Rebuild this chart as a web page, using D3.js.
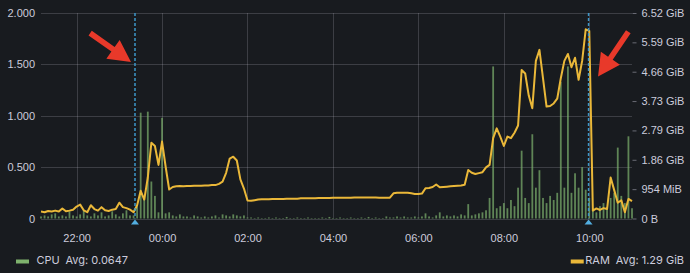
<!DOCTYPE html>
<html>
<head>
<meta charset="utf-8">
<script src="https://cdn.jsdelivr.net/npm/d3@7"></script>
<style>
  html, body { margin: 0; padding: 0; background: #181b1f; }
  svg { display: block; font-family: Inter, "Noto Sans", sans-serif; }
</style>
</head>
<body>
<div id="chart"></div>
<script>
// time range, one sample every 5 minutes
var startTime = new Date(2021, 0, 1, 21, 10);
var endTime = new Date(2021, 0, 2, 11, 0);
var stepMinutes = 5;

// CPU (left axis)
var cpuValues = [
  0.02,0.03,0.02,0.04,0.05,0.02,0.03,0.02,0.07,0.03,0.02,0.04,0.08,0.03,0.02,0.05,0.03,0.06,0.02,0.03,
  0.07,0.04,0.02,0.05,0.08,0.03,
  0.03,0.12,1.03,0.22,1.04,0.36,0.22,0.06,0.98,0.05,0.06,0.03,0.02,0.04,0.02,
  0.02,0.01,0.03,0.02,0.01,0.02,0.01,0.02,0.03,0.01,
  0.04,0.03,0.02,0.04,0.03,0.02,0.03,0.01,
  0.01,0.005,0.01,0.005,0.005,0.01,0.005,0.01,0.005,0.005,
  0.015,0.005,0.005,0.01,0.005,0.005,0.01,0.005,0.005,0.005,
  0.01,0.005,0.015,0.005,0.005,0.01,0.005,0.005,0.01,0.005,
  0.005,0.01,0.005,0.015,0.005,0.01,0.005,0.005,0.02,0.01,
  0.01,0.02,
  0.01,0.02,0.01,0.01,0.02,0.01,0.02,0.05,0.02,0.01,0.03,0.06,0.02,0.03,0.02,0.03,0.02,0.04,0.03,0.14,
  0.03,0.04,0.05,0.06,0.08,0.2,
  1.48,0.1,0.12,0.15,0.1,0.18,0.12,0.3,0.66,0.2,0.15,0.82,0.3,0.47,0.2,0.15,0.22,0.18,0.25,1.33,
  0.3,1.48,0.25,0.44,0.3,0.5,0.28,0.2,0.08,0.06,0.12,0.15,0.1,0.2,0.25,0.69,0.22,0.15,0.8,0.1
];

// RAM in GiB (right axis)
var ramGiB = [
  0.22,0.2,0.24,0.22,0.25,0.22,0.32,0.23,0.25,0.28,
  0.38,0.44,0.26,0.2,0.42,0.3,0.25,0.36,0.26,0.24,
  0.28,0.3,0.5,0.36,0.33,0.28,0.2,0.42,0.88,0.6,
  1.3,2.4,2.3,1.7,2.44,1.65,0.92,1.0,1.02,1.03,
  1.02,1.03,1.03,1.04,1.04,1.04,1.05,1.05,1.06,1.06,
  1.1,1.17,1.45,1.9,1.96,1.84,1.24,0.95,0.57,0.56,
  0.58,0.6,0.61,0.61,0.61,0.62,0.62,0.62,0.62,0.63,
  0.63,0.63,0.63,0.64,0.64,0.64,0.64,0.64,0.65,0.65,
  0.65,0.65,0.66,0.66,0.66,0.66,0.66,0.66,0.67,0.67,
  0.67,0.67,0.67,0.67,0.67,0.66,0.66,0.66,0.66,0.8,
  0.82,0.82,0.82,0.82,0.8,0.78,0.78,0.79,0.96,0.97,
  1.0,1.08,0.99,1.0,1.01,1.02,1.03,1.04,1.05,1.07,
  1.54,1.45,1.41,1.44,1.47,1.62,1.7,2.55,2.86,2.6,
  2.3,2.6,2.55,2.72,2.95,4.71,4.6,3.9,3.5,5.0,
  5.35,4.45,3.55,3.57,3.65,3.8,4.45,5.0,5.22,4.8,
  5.1,4.4,5.0,6.0,5.95,0.25,0.32,0.27,0.33,0.3,
  1.3,0.9,0.5,0.58,0.2,0.62,0.55
];

var annotationTimes = [new Date(2021, 0, 1, 23, 22), new Date(2021, 0, 2, 9, 59)];

var cpuTicks = [0, 0.5, 1, 1.5, 2];
var ramTicks = [0, 1e9, 2e9, 3e9, 4e9, 5e9, 6e9, 7e9];

var legendNames = ["CPU", "RAM"];
var legendAvgs = ["Avg: 0.0647", "Avg: 1.29 GiB"];

// svg
var svgWidth = 690, svgHeight = 273;
var plot = { left: 41, right: 632, top: 13, bottom: 218.5 };

var cpuColor = "#7eb26d";
var ramColor = "#eab839";
var textColor = "#ccccdc";
var gridColor = "rgba(204,204,220,0.2)";

var svg = d3.select("#chart").append("svg")
  .attr("width", svgWidth).attr("height", svgHeight);

svg.append("rect").attr("width", svgWidth).attr("height", svgHeight).attr("fill", "#181b1f");

var times = cpuValues.map((d, i) => d3.timeMinute.offset(startTime, i * stepMinutes));

// scales
var xScale = d3.scaleTime().domain([startTime, endTime]).range([plot.left, plot.right]);
var yCpu = d3.scaleLinear().domain([0, 2]).range([plot.bottom, plot.top]);
var yRam = d3.scaleLinear().domain([0, 7e9]).range([plot.bottom, plot.top]);

var xTicks = xScale.ticks(d3.timeHour.every(2));

// grid
svg.append("g").selectAll("line").data(xTicks).enter().append("line")
  .attr("x1", d => Math.round(xScale(d)) + 0.5).attr("x2", d => Math.round(xScale(d)) + 0.5)
  .attr("y1", plot.top).attr("y2", plot.bottom)
  .attr("stroke", gridColor);

svg.append("g").selectAll("line").data(cpuTicks).enter().append("line")
  .attr("x1", plot.left).attr("x2", plot.right)
  .attr("y1", d => Math.round(yCpu(d)) + 0.5).attr("y2", d => Math.round(yCpu(d)) + 0.5)
  .attr("stroke", gridColor);

// axes
function styleAxis(g) {
  g.select(".domain").remove();
  g.selectAll("text").attr("fill", textColor).style("font-size", "11px");
  g.selectAll(".tick line").attr("stroke", "rgba(204,204,220,0.45)");
}

svg.append("g")
  .attr("transform", `translate(${plot.left}, 0)`)
  .call(d3.axisLeft(yCpu).tickValues(cpuTicks).tickSize(0).tickPadding(6)
    .tickFormat(d => d === 0 ? "0" : d3.format(".3f")(d)))
  .call(styleAxis);

function fmtBytes(b) {
  if (b === 0) return "0 B";
  if (b < Math.pow(2, 30)) return Math.round(b / Math.pow(2, 20)) + " MiB";
  return (b / Math.pow(2, 30)).toFixed(2) + " GiB";
}

svg.append("g")
  .attr("transform", `translate(${plot.right + 0.5}, 0)`)
  .call(d3.axisRight(yRam).tickValues(ramTicks).tickSize(4).tickPadding(5).tickFormat(fmtBytes))
  .call(styleAxis);

svg.append("g")
  .attr("transform", `translate(0, ${plot.bottom})`)
  .call(d3.axisBottom(xScale).tickValues(xTicks).tickSize(0).tickPadding(16)
    .tickFormat(d3.timeFormat("%H:%M")))
  .call(styleAxis);

// CPU bars
var barWidth = 1.8;
svg.append("g").selectAll("rect").data(cpuValues).enter().append("rect")
  .attr("x", (d, i) => xScale(times[i]) - barWidth / 2)
  .attr("y", d => yCpu(d))
  .attr("width", barWidth)
  .attr("height", d => plot.bottom - yCpu(d))
  .attr("fill", cpuColor)
  .attr("fill-opacity", 0.7);

// RAM line
var ramLine = d3.line()
  .x((d, i) => xScale(times[i]))
  .y(d => yRam(d * Math.pow(2, 30)));

svg.append("path")
  .datum(ramGiB)
  .attr("d", ramLine)
  .attr("fill", "none")
  .attr("stroke", ramColor)
  .attr("stroke-width", 2)
  .attr("stroke-linejoin", "round");

// annotations
var annG = svg.append("g");
annotationTimes.forEach(function (t) {
  var ax = xScale(t);
  annG.append("line")
    .attr("x1", ax).attr("x2", ax)
    .attr("y1", plot.top).attr("y2", plot.bottom)
    .attr("stroke", "#3d97c8")
    .attr("stroke-width", 1.5)
    .attr("stroke-dasharray", "3,2");
  annG.append("path")
    .attr("d", `M${ax},${plot.bottom + 1} L${ax - 4},${plot.bottom + 6} L${ax + 4},${plot.bottom + 6} Z`)
    .attr("fill", "#52aee0");
});

// red arrows pointing at the annotations
var arrows = [
  { ann: 0, dx: -4, tipY: 62, dirX: 41, dirY: 29, len: 50 },
  { ann: 1, dx: 9.5, tipY: 76.5, dirX: -30.3, dirY: 44.8, len: 54 }
];
arrows.forEach(function (a) {
  var tx = xScale(annotationTimes[a.ann]) + a.dx, ty = a.tipY;
  var m = Math.sqrt(a.dirX * a.dirX + a.dirY * a.dirY);
  var ux = a.dirX / m, uy = a.dirY / m;
  var nx = -uy, ny = ux;
  var h = 22, w = 11.5, s = 2.8;
  var pts = [
    [tx - ux * a.len + nx * s, ty - uy * a.len + ny * s],
    [tx - ux * h + nx * s, ty - uy * h + ny * s],
    [tx - ux * h + nx * w, ty - uy * h + ny * w],
    [tx, ty],
    [tx - ux * h - nx * w, ty - uy * h - ny * w],
    [tx - ux * h - nx * s, ty - uy * h - ny * s],
    [tx - ux * a.len - nx * s, ty - uy * a.len - ny * s]
  ];
  svg.append("path")
    .attr("d", "M" + pts.map(p => p.join(",")).join("L") + "Z")
    .attr("fill", "#e8392a");
});

// legend
var legendY = 264;
var cpuLegend = svg.append("g");
cpuLegend.append("line")
  .attr("x1", 16).attr("x2", 29).attr("y1", legendY - 2.5).attr("y2", legendY - 2.5)
  .attr("stroke", cpuColor).attr("stroke-width", 4);
var cpuText = cpuLegend.append("text")
  .attr("x", 36.5).attr("y", legendY)
  .attr("fill", textColor).style("font-size", "11px");
cpuText.append("tspan").text(legendNames[0]);
cpuText.append("tspan").attr("dx", 6).text(legendAvgs[0]);

var ramLegend = svg.append("g");
var ramText = ramLegend.append("text")
  .attr("x", 684).attr("y", legendY)
  .attr("text-anchor", "end")
  .attr("fill", textColor).style("font-size", "11px");
ramText.append("tspan").text(legendNames[1]);
ramText.append("tspan").attr("dx", 6).text(legendAvgs[1]);
var ramStart = 684 - ramText.node().getComputedTextLength();
ramLegend.append("line")
  .attr("x1", ramStart - 20.5).attr("x2", ramStart - 7.5)
  .attr("y1", legendY - 2.5).attr("y2", legendY - 2.5)
  .attr("stroke", ramColor).attr("stroke-width", 4);
</script>
</body>
</html>
